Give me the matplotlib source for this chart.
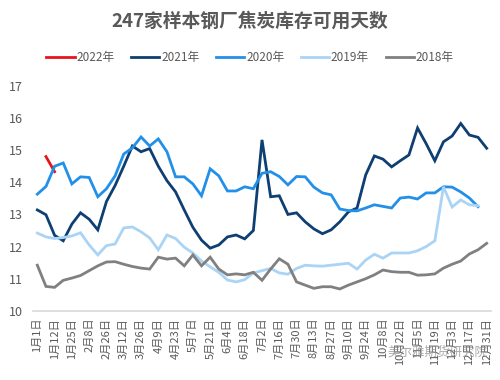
import numpy as np
import matplotlib
matplotlib.use("Agg")
from matplotlib import pyplot as plt

plt.rcParams['font.family'] = ['Noto Sans CJK SC', 'DejaVu Sans']

# tick labels, one for every second week
tick_labels = ["1月1日", "1月12日", "1月25日", "2月8日", "2月26日", "3月12日", "3月26日",
               "4月9日", "4月23日", "5月7日", "5月21日", "6月4日", "6月18日", "7月2日",
               "7月16日", "7月30日", "8月13日", "8月27日", "9月10日", "9月24日", "10月8日",
               "10月22日", "11月5日", "11月19日", "12月3日", "12月17日", "12月31日"]
n_weeks = 53

y2022 = [np.nan, 14.8, 14.33]
y2021 = [13.14, 12.99, 12.35, 12.18, 12.7, 13.05, 12.85, 12.52, 13.4, 13.9,
         14.5, 15.13, 14.95, 15.05, 14.5, 14.05, 13.7, 13.14, 12.6, 12.2,
         11.95, 12.05, 12.3, 12.36, 12.24, 12.5, 15.32, 13.55, 13.58, 13.0,
         13.05, 12.77, 12.55, 12.4, 12.52, 12.77, 13.08, 13.2, 14.23, 14.82,
         14.72, 14.48, 14.67, 14.85, 15.69, 15.2, 14.67, 15.26, 15.44, 15.83,
         15.47, 15.4, 15.06]
y2020 = [13.63, 13.87, 14.5, 14.6, 13.95, 14.17, 14.15, 13.55, 13.8, 14.2,
         14.88, 15.07, 15.41, 15.13, 15.35, 14.95, 14.17, 14.17, 13.95, 13.58,
         14.42, 14.2, 13.73, 13.73, 13.86, 13.8, 14.28, 14.33, 14.18, 13.92,
         14.18, 14.17, 13.85, 13.67, 13.61, 13.17, 13.12, 13.11, 13.2, 13.3,
         13.25, 13.2, 13.51, 13.54, 13.48, 13.67, 13.67, 13.86, 13.85, 13.7,
         13.51, 13.24]
y2019 = [12.42, 12.3, 12.25, 12.28, 12.33, 12.43, 12.05, 11.74, 12.03, 12.08,
         12.58, 12.61, 12.46, 12.27, 11.9, 12.36, 12.25, 11.98, 11.8, 11.55,
         11.37, 11.2, 10.96, 10.9, 10.97, 11.18, 11.25, 11.32, 11.18, 11.14,
         11.32, 11.42, 11.4, 11.39, 11.42, 11.45, 11.48, 11.3, 11.58, 11.76,
         11.64, 11.8, 11.8, 11.8, 11.87, 12.0, 12.18, 13.86, 13.23, 13.45,
         13.3, 13.27]
y2018 = [11.42, 10.76, 10.73, 10.95, 11.02, 11.1, 11.25, 11.4, 11.52, 11.53,
         11.45, 11.38, 11.33, 11.3, 11.67, 11.61, 11.64, 11.4, 11.74, 11.4,
         11.67, 11.3, 11.12, 11.15, 11.12, 11.2, 10.95, 11.3, 11.62, 11.45,
         10.9, 10.8, 10.7, 10.75, 10.75, 10.68, 10.8, 10.9, 11.0, 11.12,
         11.27, 11.22, 11.2, 11.2, 11.11, 11.12, 11.15, 11.33, 11.45, 11.55,
         11.77, 11.9, 12.1]

series = [("2022年", y2022, "#E8141C"),
          ("2021年", y2021, "#0E3F72"),
          ("2020年", y2020, "#2290E8"),
          ("2019年", y2019, "#AAD4F6"),
          ("2018年", y2018, "#808080")]

fig = plt.figure(figsize=(5.0, 3.8), dpi=100)
ax = fig.add_axes([0.066, 0.182, 0.916, 0.592])

for name, vals, col in series:
    ax.plot(np.arange(len(vals)), vals, color=col, linewidth=2.0, label=name,
            solid_joinstyle='miter')

ax.set_xlim(-0.5, n_weeks - 0.5)
ax.set_ylim(10, 17)
ax.set_yticks(range(10, 18))
ax.set_xticks(np.arange(0, n_weeks, 2))
ax.set_xticklabels(tick_labels, rotation=90, fontsize=8, color="#595959")
ax.tick_params(axis='y', labelsize=9, labelcolor="#595959", length=0, pad=7)
ax.tick_params(axis='x', length=0, pad=5)

for s in ['top', 'right', 'left']:
    ax.spines[s].set_visible(False)
ax.spines['bottom'].set_color("#D9D9D9")
ax.spines['bottom'].set_linewidth(1.2)

fig.text(0.5, 0.945, "247家样本钢厂焦炭库存可用天数", ha='center', va='center',
         fontsize=13.5, fontweight='bold', color="#595959")

fig.legend(loc='center', bbox_to_anchor=(0.5, 0.848), ncol=5, frameon=False,
           fontsize=8.5, labelcolor="#595959", handlelength=2.4, handletextpad=0.15,
           columnspacing=1.4)

# watermark
fig.text(0.975, 0.072, "美尔雅期货研究院", ha='right', va='center', fontsize=9,
         color="#8C8C8C", alpha=0.75)

plt.savefig("out.png", dpi=100)
